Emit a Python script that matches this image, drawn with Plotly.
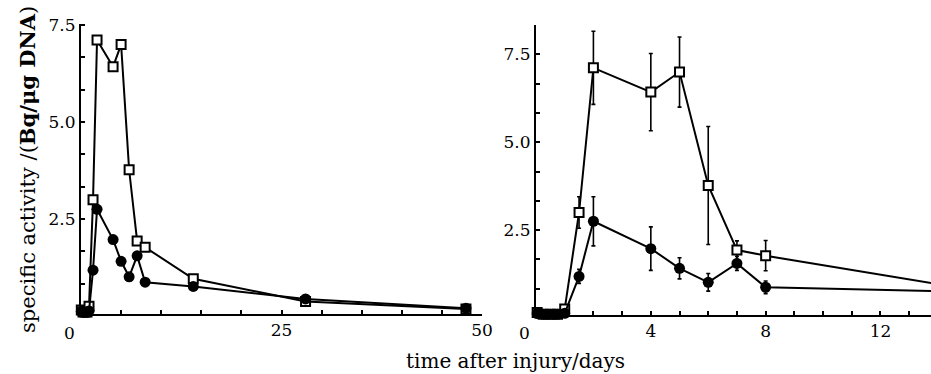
import plotly.graph_objects as go

# ---- data ----
time_days = [0.04, 0.25, 0.5, 0.75, 1.0, 1.5, 2, 4, 5, 6, 7, 8, 14, 28, 48]
open_squares = [0.15, 0.10, 0.10, 0.10, 0.25, 3.00, 7.12, 6.43, 7.00, 3.77, 1.93, 1.77, 0.96, 0.37, 0.18]
open_squares_err = [0.0, 0.0, 0.0, 0.0, 0.05, 0.45, 1.04, 1.10, 1.00, 1.68, 0.26, 0.43, 0.0, 0.0, 0.0]
filled_circles = [0.12, 0.10, 0.10, 0.10, 0.13, 1.18, 2.75, 1.97, 1.41, 1.01, 1.55, 0.87, 0.76, 0.44, 0.20]
filled_circles_err = [0.0, 0.0, 0.0, 0.0, 0.05, 0.20, 0.70, 0.62, 0.30, 0.25, 0.20, 0.18, 0.0, 0.0, 0.0]

left_xticks = [0, 25, 50]
left_xticktext = ["", "25", "50"]
right_xticks = [0, 4, 8, 12]
right_xticktext = ["", "4", "8", "12"]
y_ticks = [2.5, 5.0, 7.5]
y_ticktext = ["2.5", "5.0", "7.5"]

x_title = "time after injury/days"
y_title = "specific activity /(<b>Bq/μg DNA</b>)"

W, H = 931, 374
BLACK = "black"
TICKFONT = dict(family="DejaVu Serif", size=17, color=BLACK)
XTITLEFONT = dict(family="DejaVu Serif", size=20, color=BLACK)
YTITLEFONT = dict(family="DejaVu Serif", size=21, color=BLACK)

fig = go.Figure()

def add_series(xa, ya, with_err):
    sq = dict(x=time_days, y=open_squares, mode="lines+markers",
              line=dict(color=BLACK, width=2),
              marker=dict(symbol="square", size=9, color="white",
                          line=dict(color=BLACK, width=2)),
              xaxis=xa, yaxis=ya, cliponaxis=False, showlegend=False)
    ci = dict(x=time_days, y=filled_circles, mode="lines+markers",
              line=dict(color=BLACK, width=2),
              marker=dict(symbol="circle", size=11, color=BLACK),
              xaxis=xa, yaxis=ya, cliponaxis=False, showlegend=False)
    if with_err:
        sq["error_y"] = dict(type="data", array=open_squares_err, color=BLACK,
                             thickness=1.6, width=2)
        ci["error_y"] = dict(type="data", array=filled_circles_err, color=BLACK,
                             thickness=1.6, width=2)
    fig.add_trace(go.Scatter(**sq))
    fig.add_trace(go.Scatter(**ci))

add_series("x", "y", False)
add_series("x2", "y2", True)

axis_common = dict(showline=True, linecolor=BLACK, linewidth=2, showgrid=False,
                   zeroline=False, ticks="inside", ticklen=4, tickwidth=1.5,
                   tickcolor=BLACK, tickfont=TICKFONT, automargin=False)

fig.update_layout(
    width=W, height=H, autosize=False,
    margin=dict(l=0, r=0, t=0, b=0, pad=0),
    paper_bgcolor="white", plot_bgcolor="white",
    xaxis=dict(domain=[81 / W, 482 / W], range=[0, 50], anchor="y",
               tickmode="array", tickvals=left_xticks, ticktext=left_xticktext,
               minor=dict(dtick=5, tick0=0, ticks="inside", ticklen=4,
                          tickwidth=1.5, tickcolor=BLACK),
               **axis_common),
    yaxis=dict(domain=[60 / H, 350 / H], range=[0.05, 7.53], anchor="x",
               tickmode="array", tickvals=y_ticks, ticktext=y_ticktext,
               minor=dict(dtick=2.5 / 3, tick0=0, ticks="inside", ticklen=4,
                          tickwidth=1.5, tickcolor=BLACK),
               **axis_common),
    xaxis2=dict(domain=[536 / W, 1.0], range=[0, 13.76], anchor="y2",
                tickmode="array", tickvals=right_xticks, ticktext=right_xticktext,
                minor=dict(dtick=1, tick0=0, ticks="inside", ticklen=4,
                           tickwidth=1.5, tickcolor=BLACK),
                **axis_common),
    yaxis2=dict(domain=[59 / H, 349 / H], range=[0.08, 8.34], anchor="x2",
                tickmode="array", tickvals=y_ticks, ticktext=y_ticktext,
                minor=dict(dtick=2.5 / 3, tick0=0, ticks="inside", ticklen=4,
                           tickwidth=1.5, tickcolor=BLACK),
                **axis_common),
)

# zero labels placed just left of each y-axis, as in the reference
for xr in ("x", "x2"):
    fig.add_annotation(x=0, xref=xr, y=1 - 333 / H, yref="paper", text="0",
                       showarrow=False, xshift=-12, font=TICKFONT,
                       xanchor="center", yanchor="middle")

fig.add_annotation(x=515 / W, y=1 - 361 / H, xref="paper", yref="paper",
                   text=x_title, showarrow=False, font=XTITLEFONT,
                   xanchor="center", yanchor="middle")
fig.add_annotation(x=27 / W, y=1 - 170 / H, xref="paper", yref="paper",
                   text=y_title, textangle=-90, showarrow=False, font=YTITLEFONT,
                   xanchor="center", yanchor="middle")

fig.write_html(
    "out.html",
    config={"responsive": False, "displayModeBar": False},
    post_script="document.body.style.margin='0';document.body.style.overflow='hidden';",
)
